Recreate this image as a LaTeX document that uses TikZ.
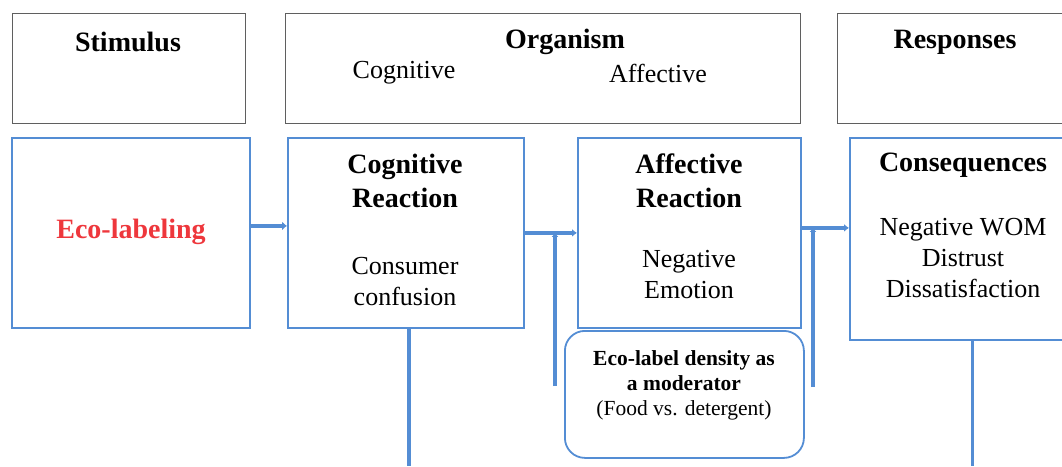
\documentclass[tikz,border=0pt]{standalone}
\usepackage{fontspec}
\setmainfont{Liberation Serif}
\usetikzlibrary{arrows.meta}
\definecolor{bl}{RGB}{84,141,212}
\definecolor{gr}{RGB}{95,95,95}
\definecolor{ecored}{RGB}{238,55,60}
\begin{document}
\begin{tikzpicture}[x=1pt,y=-1pt,
  graybox/.style={draw=gr,line width=1.4pt,inner sep=0pt,anchor=north west},
  bluebox/.style={draw=bl,line width=1.8pt,inner sep=0pt,anchor=north west},
  modbox/.style={draw=bl,line width=1.8pt,inner sep=0pt,anchor=north west,rounded corners=20pt},
  conn/.style={draw=bl,line width=3.5pt,-{Latex[length=5pt,width=8pt]}},
  thick conn/.style={draw=bl,line width=4pt},
  head/.style={font=\fontsize{28}{34}\selectfont\bfseries,inner sep=0pt,align=center},
  body/.style={font=\fontsize{26}{31}\selectfont,inner sep=0pt,align=center},
  modtext/.style={font=\fontsize{21.5}{25}\selectfont,inner sep=0pt,align=center}]
\clip (0,0) rectangle (1062,466);
% top boxes
\node[graybox,minimum width=233pt,minimum height=110pt] (stim) at (12,13) {};
\node[graybox,minimum width=515pt,minimum height=110pt] (org) at (285,13) {};
\node[graybox,minimum width=240pt,minimum height=110pt] (resp) at (837,13) {};
\node[head] (tstim) at (128,42) {Stimulus};
\node[head] (torg) at (565,42) {Organism};
\node[body] (tcog) at (404,73) {Cognitive};
\node[body] (taff) at (658,73) {Affective};
\node[head] (tresp) at (955,42) {Responses};
% blue boxes
\node[bluebox,minimum width=238pt,minimum height=190pt] (eco) at (11,137) {};
\node[bluebox,minimum width=236pt,minimum height=190pt] (cog) at (287,137) {};
\node[bluebox,minimum width=223pt,minimum height=190pt] (aff) at (577,137) {};
\node[bluebox,minimum width=230pt,minimum height=202pt] (cons) at (849,137) {};
\node[modbox,minimum width=239pt,minimum height=127pt] (mod) at (564,330) {};
% texts
\node[head,text=ecored] (teco) at (131,232) {Eco-labeling};
\node[head] (tcogr) at (405,181) {Cognitive\\Reaction};
\node[body] (tcc) at (405,282) {Consumer\\confusion};
\node[head] (taffr) at (689,181) {Affective\\Reaction};
\node[body] (tne) at (689,275) {Negative\\Emotion};
\node[head] (tcons) at (963,165) {Consequences};
\node[body] (tcl) at (963,258) {Negative WOM\\Distrust\\Dissatisfaction};
\node[modtext] (tmod) at (684,385) {\bfseries Eco-label density as\\\bfseries a moderator\\(Food vs. detergent)};
% connectors
\draw[thick conn,-{Latex[length=5pt,width=9pt]}] ([yshift=7pt]eco.east) -- ([yshift=7pt]eco.east -| cog.west);
\draw[conn] (cog.east) -- (cog.east -| aff.west);
\draw[conn] ([yshift=5pt]aff.east) -- ([yshift=5pt]aff.east -| cons.west);
\coordinate (m1) at (555,386);
\coordinate (m2) at (813,387);
\draw[draw=bl,line width=3.5pt,-{Latex[length=4pt,width=7pt]}] (m1) -- (m1 |- cog.east);
\draw[draw=bl,line width=3.5pt,-{Latex[length=4pt,width=7pt]}] (m2) -- ([yshift=5pt]m2 |- aff.east);
\coordinate (c1) at (409,466);
\coordinate (c2) at (972,466);
\draw[thick conn] (c1 |- cog.south) -- (c1);
\draw[draw=bl,line width=3pt] (c2 |- cons.south) -- (c2);
\end{tikzpicture}
\end{document}
